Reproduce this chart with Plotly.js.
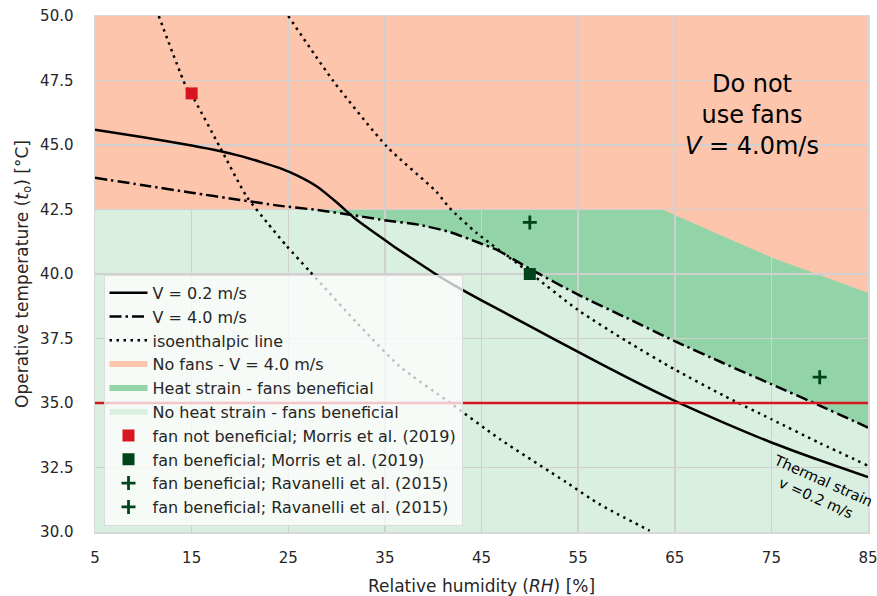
<!DOCTYPE html>
<html>
<head>
<meta charset="utf-8">
<script src="https://cdn.plot.ly/plotly-3.0.1.min.js"></script>
<style>html,body{margin:0;padding:0;background:#fff;}#chart{width:877px;height:596px;}</style>
</head>
<body>
<div id="chart"></div>
<script>
// ---- Data ----
const rhV02 = [5, 10, 15, 18, 20, 22, 24, 26, 28, 30, 32, 34, 36, 38, 40, 42, 45, 50, 55, 60, 65, 70, 75, 80, 85];
const tV02  = [45.59, 45.30, 44.98, 44.76, 44.58, 44.36, 44.12, 43.8, 43.38, 42.78, 42.12, 41.58, 41.05, 40.55, 40.06, 39.6, 38.98, 37.98, 36.98, 36.0, 35.08, 34.25, 33.47, 32.78, 32.13];

const rhV40 = [5, 10, 15, 20, 24, 28, 31.4, 34.5, 38.6, 41.7, 44.8, 46.5, 50, 55, 60, 65, 70, 75, 80, 85];
const tV40  = [43.73, 43.44, 43.15, 42.87, 42.65, 42.48, 42.3, 42.11, 41.9, 41.63, 41.2, 40.95, 40.2, 39.2, 38.3, 37.4, 36.55, 35.73, 34.9, 34.05];

const rhIso1 = [11.6, 14.5, 15, 17.9, 20.7, 22.8, 24.8, 27.2, 32.1, 36.5, 41.7, 46.9, 53.8, 57.2, 62.4];
const tIso1  = [50, 47.2, 46.94, 44.94, 43.0, 42.0, 41.1, 40.11, 38.11, 36.43, 35.02, 33.6, 31.92, 31.08, 30.05];

const rhIso2 = [25, 29.7, 35.2, 40.3, 41.7, 44.5, 50, 55, 60, 65, 70, 75, 80, 85];
const tIso2  = [50, 47.46, 44.94, 43.2, 42.56, 41.59, 40.05, 38.6, 37.4, 36.3, 35.3, 34.37, 33.45, 32.57];

// boundary between "no fans" and "fans beneficial" zones
const zoneRH = [5, 63.7, 75, 85];
const zoneT  = [42.5, 42.5, 40.64, 39.27];

const rhRange = [5, 85];
const tRange = [30, 50];
const strainLimitT = 35;

const morrisNotRH = [15], morrisNotT = [47.0];
const morrisBenRH = [50], morrisBenT = [40.0];
const ravA_RH = [50], ravA_T = [42.0];
const ravB_RH = [80], ravB_T = [36.0];

const xTicks = [5, 15, 25, 35, 45, 55, 65, 75, 85];

// ---- Colors ----
const cOrange = '#fdc5ac';
const cDarkG = '#92d4a7';
const cLightG = '#d9efdf';
const cRed = '#d7141f';
const cDeep = '#00441b';

function polyPath(xs, ys) {
  return 'M' + xs.map((x, i) => x + ',' + ys[i]).join('L') + 'Z';
}

// region polygons built from the arrays
const lightX = zoneRH.concat([rhRange[1], rhRange[0]]);
const lightY = zoneT.concat([tRange[0], tRange[0]]);
const darkX = rhV40.concat([rhRange[1], rhRange[0]]);
const darkY = tV40.concat([tRange[1], tRange[1]]);
const orangeX = zoneRH.concat([rhRange[1], rhRange[0]]);
const orangeY = zoneT.concat([tRange[1], tRange[1]]);

const shapes = [
  {type: 'path', xref: 'x', yref: 'y', path: polyPath(lightX, lightY), fillcolor: cLightG, line: {width: 0}, layer: 'below'},
  {type: 'path', xref: 'x', yref: 'y', path: polyPath(darkX, darkY), fillcolor: cDarkG, line: {width: 0}, layer: 'below'},
  {type: 'path', xref: 'x', yref: 'y', path: polyPath(orangeX, orangeY), fillcolor: cOrange, line: {width: 0}, layer: 'below'}
];

let g = 0;
function grp() { g += 1; return 'g' + g; }

const sp = {shape: 'spline', smoothing: 0.6};

const traces = [
  {x: rhV02, y: tV02, mode: 'lines', name: 'V = 0.2 m/s', line: Object.assign({color: '#000', width: 2.5}, sp), legendgroup: grp()},
  {x: rhV40, y: tV40, mode: 'lines', name: 'V = 4.0 m/s', line: Object.assign({color: '#000', width: 2.5, dash: '12px,4px,2.5px,4px'}, sp), legendgroup: grp()},
  {x: rhIso1, y: tIso1, mode: 'lines', name: 'isoenthalpic line', line: Object.assign({color: '#000', width: 2.5, dash: '2.5px,4.5px'}, sp), legendgroup: grp()},
  {x: rhIso2, y: tIso2, mode: 'lines', name: 'isoenthalpic line', showlegend: false, line: Object.assign({color: '#000', width: 2.5, dash: '2.5px,4.5px'}, sp)},
  {x: rhRange, y: [strainLimitT, strainLimitT], mode: 'lines', showlegend: false, line: {color: cRed, width: 2.5}},
  {x: [null], y: [null], mode: 'none', fill: 'toself', fillcolor: cOrange, name: 'No fans - V = 4.0 m/s', legendgroup: grp()},
  {x: [null], y: [null], mode: 'none', fill: 'toself', fillcolor: cDarkG, name: 'Heat strain - fans beneficial', legendgroup: grp()},
  {x: [null], y: [null], mode: 'none', fill: 'toself', fillcolor: cLightG, name: 'No heat strain - fans beneficial', legendgroup: grp()},
  {x: morrisNotRH, y: morrisNotT, mode: 'markers', name: 'fan not beneficial; Morris et al. (2019)', marker: {symbol: 'square', size: 12, color: cRed}, legendgroup: grp()},
  {x: morrisBenRH, y: morrisBenT, mode: 'markers', name: 'fan beneficial; Morris et al. (2019)', marker: {symbol: 'square', size: 12, color: cDeep}, legendgroup: grp()},
  {x: ravA_RH, y: ravA_T, mode: 'markers', name: 'fan beneficial; Ravanelli et al. (2015)', marker: {symbol: 'cross-thin', size: 10, color: cDeep, line: {color: cDeep, width: 2.8}}, legendgroup: grp()},
  {x: ravB_RH, y: ravB_T, mode: 'markers', name: 'fan beneficial; Ravanelli et al. (2015)', marker: {symbol: 'cross-thin', size: 10, color: cDeep, line: {color: cDeep, width: 2.8}}, legendgroup: grp()}
];

const fontFam = 'DejaVu Sans, sans-serif';

const layout = {
  width: 877, height: 596,
  margin: {l: 95, r: 9, t: 16, b: 64},
  paper_bgcolor: '#fff',
  plot_bgcolor: '#fff',
  font: {family: fontFam, size: 15, color: '#262626'},
  showlegend: true,
  xaxis: {
    range: rhRange, tickvals: xTicks, ticktext: xTicks.map(String),
    showgrid: true, gridcolor: '#d0d0d0', gridwidth: 1.5,
    zeroline: false, showline: true, linecolor: '#d8d8d8', linewidth: 1.5, mirror: true,
    ticks: '', ticklabelstandoff: 11, ticklabeloverflow: 'allow',
    tickfont: {size: 15, color: '#262626'},
    title: {text: 'Relative humidity (<i>RH</i>) [%]', font: {size: 17, color: '#262626'}, standoff: 14}
  },
  yaxis: {
    range: tRange, tick0: 30, dtick: 2.5, tickformat: '.1f',
    showgrid: true, gridcolor: '#d0d0d0', gridwidth: 1.5,
    zeroline: false, showline: true, linecolor: '#d8d8d8', linewidth: 1.5, mirror: true,
    ticks: '', ticklabelstandoff: 17, ticklabeloverflow: 'allow',
    tickfont: {size: 15, color: '#262626'},
    title: {text: 'Operative temperature (<i>t</i><sub>o</sub>) [°C]', font: {size: 17, color: '#262626'}, standoff: 7}
  },
  legend: {
    x: 0.011, y: 0.012, xanchor: 'left', yanchor: 'bottom',
    bgcolor: 'rgba(255,255,255,0.75)', bordercolor: '#dcdcdc', borderwidth: 1,
    font: {size: 16, color: '#262626'},
    traceorder: 'grouped', tracegroupgap: 0, itemwidth: 38
  },
  shapes: shapes,
  annotations: [
    {x: 73.0, y: 46.15, xref: 'x', yref: 'y', showarrow: false,
     text: 'Do not<br>use fans<br><i>V</i> = 4.0m/s', font: {size: 24, color: '#000', family: fontFam}, align: 'center'},
    {x: 80.0, y: 31.66, xref: 'x', yref: 'y', showarrow: false, textangle: 24,
     text: 'Thermal strain<br>v =0.2 m/s', font: {size: 14.5, color: '#000', family: fontFam}, align: 'center'}
  ]
};

Plotly.newPlot('chart', traces, layout, {displayModeBar: false, staticPlot: true});
</script>
</body>
</html>
